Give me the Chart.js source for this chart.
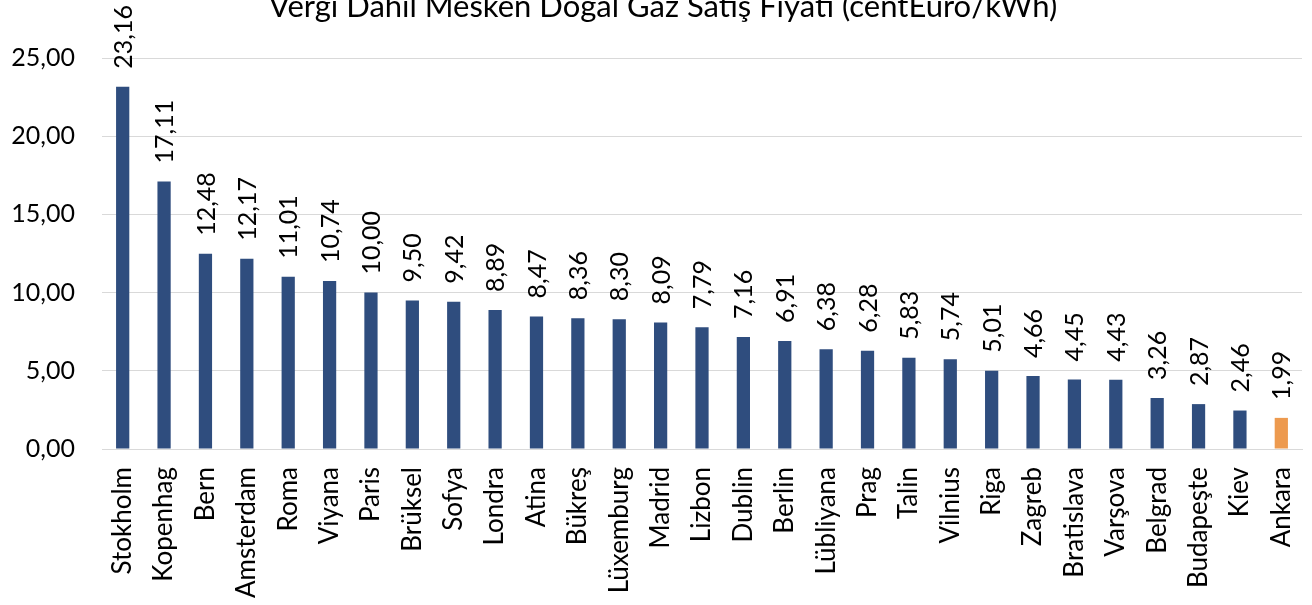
<!DOCTYPE html>
<html>
<head>
<meta charset="utf-8">
<script src="https://cdn.jsdelivr.net/npm/chart.js@4.4.1/dist/chart.umd.min.js"></script>
<style>
  html, body { margin: 0; padding: 0; background: #fff; }
  #wrap { position: relative; width: 1312px; height: 605px; overflow: hidden; }
  #chart { position: absolute; left: 0; top: 0; }
</style>
</head>
<body>
<div id="wrap"><canvas id="chart" width="1312" height="605"></canvas></div>
<script>
const cities = ['Stokholm', 'Kopenhag', 'Bern', 'Amsterdam', 'Roma', 'Viyana', 'Paris', 'Brüksel',
  'Sofya', 'Londra', 'Atina', 'Bükreş', 'Lüxemburg', 'Madrid', 'Lizbon', 'Dublin', 'Berlin',
  'Lübliyana', 'Prag', 'Talin', 'Vilnius', 'Riga', 'Zagreb', 'Bratislava', 'Varşova', 'Belgrad',
  'Budapeşte', 'Kiev', 'Ankara'];
const prices = [23.16, 17.11, 12.48, 12.17, 11.01, 10.74, 10.00, 9.50, 9.42, 8.89, 8.47, 8.36,
  8.30, 8.09, 7.79, 7.16, 6.91, 6.38, 6.28, 5.83, 5.74, 5.01, 4.66, 4.45, 4.43, 3.26, 2.87,
  2.46, 1.99];
const highlightCity = 'Ankara';
const titleText = 'Vergi Dahil Mesken Doğal Gaz Satış Fiyatı (centEuro/kWh)';
const yTicks = [0, 5, 10, 15, 20, 25];

const BLUE = '#2F4D7E';
const ORANGE = '#ED9A4F';
const FONT = 'Lato';

const fmt = v => v.toFixed(2).replace('.', ',');

// title sits partly above the picture, so draw it by hand
const titlePlugin = {
  id: 'cutTitle',
  afterDraw(chart) {
    const ctx = chart.ctx;
    ctx.save();
    ctx.font = '31px ' + FONT;
    ctx.fillStyle = '#000';
    ctx.textAlign = 'center';
    ctx.textBaseline = 'alphabetic';
    ctx.fillText(titleText, 663, 17);
    ctx.restore();
  }
};

// vertical value labels above each bar
const barLabels = {
  id: 'barLabels',
  afterDatasetsDraw(chart) {
    const ctx = chart.ctx;
    const meta = chart.getDatasetMeta(0);
    ctx.save();
    ctx.font = '25px ' + FONT;
    ctx.fillStyle = '#000';
    ctx.textAlign = 'left';
    ctx.textBaseline = 'middle';
    meta.data.forEach((bar, i) => {
      ctx.save();
      ctx.translate(bar.x + 1, bar.y - 18);
      ctx.rotate(-Math.PI / 2);
      ctx.fillText(fmt(prices[i]), 0, 0);
      ctx.restore();
    });
    ctx.restore();
  }
};

new Chart(document.getElementById('chart'), {
  type: 'bar',
  data: {
    labels: cities,
    datasets: [{
      data: prices,
      backgroundColor: cities.map(c => c === highlightCity ? ORANGE : BLUE),
      borderWidth: 0,
      categoryPercentage: 1,
      barPercentage: 0.32
    }]
  },
  options: {
    responsive: false,
    animation: false,
    layout: { padding: { top: 58, right: 10, left: 0, bottom: 0 } },
    plugins: {
      legend: { display: false },
      title: { display: false },
      tooltip: { enabled: false }
    },
    scales: {
      x: {
        grid: { display: false, drawTicks: false },
        border: { display: true, color: '#D9D9D9', width: 1 },
        ticks: {
          color: '#000',
          font: { family: FONT, size: 26 },
          minRotation: 90,
          maxRotation: 90,
          autoSkip: false,
          padding: 18
        },
        afterFit(scale) {
          scale.height = 156;
          scale.paddingLeft = 0;
          scale.paddingRight = 0;
        }
      },
      y: {
        min: 0,
        max: 25,
        afterBuildTicks(scale) { scale.ticks = yTicks.map(v => ({ value: v })); },
        grid: { color: '#D9D9D9', lineWidth: 1, drawTicks: false },
        border: { display: false },
        ticks: {
          color: '#000',
          font: { family: FONT, size: 25 },
          padding: 27,
          callback: v => fmt(v)
        },
        afterFit(scale) { scale.width = 102; }
      }
    }
  },
  plugins: [titlePlugin, barLabels]
});
</script>
</body>
</html>
